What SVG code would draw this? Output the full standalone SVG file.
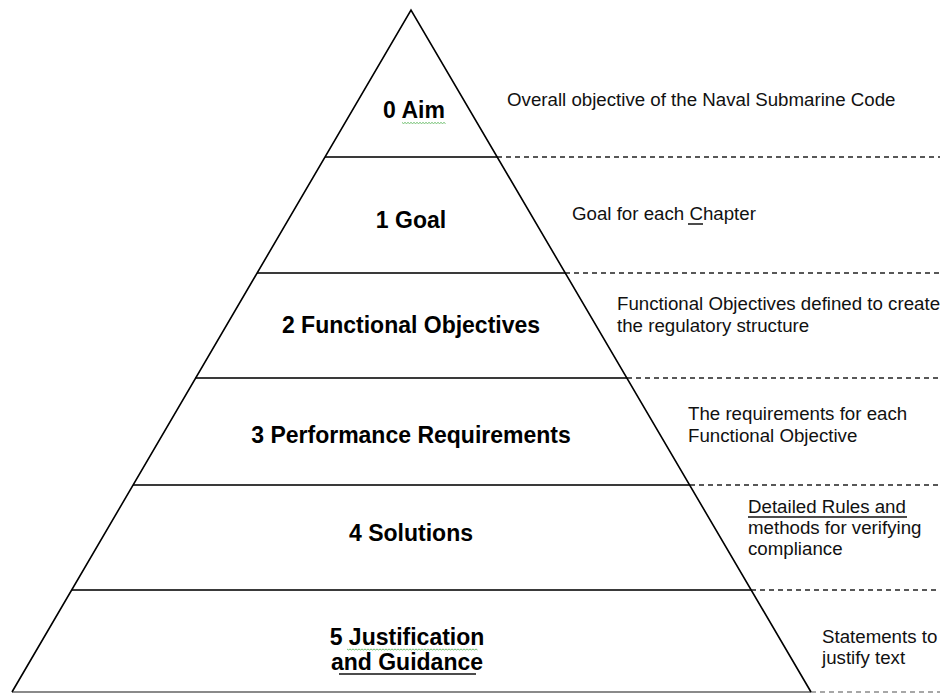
<svg xmlns="http://www.w3.org/2000/svg" width="940" height="694" viewBox="0 0 940 694">
  <style>
    .tier { font-family: "Liberation Sans", Arial, sans-serif; font-size: 23px; font-weight: bold; fill: #000; text-anchor: middle; }
    .note { font-family: "Liberation Sans", Arial, sans-serif; font-size: 18.7px; fill: #111; }
    .edge { stroke: #000; stroke-width: 1.6; fill: none; }
    .band { stroke: #3a3a3a; stroke-width: 2.2; }
    .guide { stroke: #222; stroke-width: 1.5; stroke-dasharray: 5 4; }
    .base { stroke: #8a8a8a; stroke-width: 1.8; }
    .baseguide { stroke: #8a8a8a; stroke-width: 1.5; stroke-dasharray: 5 4; }
    .squiggle { stroke: #6fbf6f; stroke-width: 1; fill: none; }
    .uline { stroke: #111; stroke-width: 1.5; }
  </style>
  <rect width="940" height="694" fill="#fff"/>

  <!-- tier dividers and their dashed extensions -->
  <g id="connectors">
    <line class="band" x1="325" y1="157" x2="497" y2="157"/>
    <line class="guide" x1="497" y1="157" x2="940" y2="157"/>
    <line class="band" x1="257" y1="273" x2="565" y2="273"/>
    <line class="guide" x1="565" y1="273" x2="940" y2="273"/>
    <line class="band" x1="195" y1="378" x2="627" y2="378"/>
    <line class="guide" x1="627" y1="378" x2="940" y2="378"/>
    <line class="band" x1="133" y1="485" x2="690" y2="485"/>
    <line class="guide" x1="690" y1="485" x2="940" y2="485"/>
    <line class="band" x1="72" y1="590" x2="751" y2="590"/>
    <line class="guide" x1="751" y1="590" x2="940" y2="590"/>
    <line class="base" x1="12" y1="692" x2="811" y2="692"/>
    <line class="baseguide" x1="811" y1="692" x2="940" y2="692"/>
  </g>

  <!-- pyramid outline -->
  <g id="pyramid">
    <polyline class="edge" points="12,692 411,10 811,692"/>
  </g>

  <g id="tier0">
    <text class="tier" x="414" y="118">0 Aim</text>
    <path class="squiggle" d="M402,122.5 l1.5,1 l1.5,-1 l1.5,1 l1.5,-1 l1.5,1 l1.5,-1 l1.5,1 l1.5,-1 l1.5,1 l1.5,-1 l1.5,1 l1.5,-1 l1.5,1 l1.5,-1 l1.5,1 l1.5,-1 l1.5,1 l1.5,-1 l1.5,1 l1.5,-1 l1.5,1 l1.5,-1 l1.5,1 l1.5,-1 l1.5,1 l1.5,-1 l1.5,1 l1.5,-1 l1.5,1"/>
    <text class="note" x="507" y="106">Overall objective of the Naval Submarine Code</text>
  </g>

  <g id="tier1">
    <text class="tier" x="411" y="228">1 Goal</text>
    <text class="note" x="572" y="220">Goal for each Chapter</text>
    <line class="uline" x1="688" y1="224" x2="703" y2="224"/>
  </g>

  <g id="tier2">
    <text class="tier" x="411" y="333">2 Functional Objectives</text>
    <text class="note" x="617" y="310">Functional Objectives defined to create</text>
    <text class="note" x="617" y="332">the regulatory structure</text>
  </g>

  <g id="tier3">
    <text class="tier" x="411" y="443">3 Performance Requirements</text>
    <text class="note" x="688" y="420">The requirements for each</text>
    <text class="note" x="688" y="442">Functional Objective</text>
  </g>

  <g id="tier4">
    <text class="tier" x="411" y="541">4 Solutions</text>
    <text class="note" x="748" y="513">Detailed Rules and</text>
    <line class="uline" x1="748" y1="517" x2="907" y2="517"/>
    <text class="note" x="748" y="534">methods for verifying</text>
    <text class="note" x="748" y="555">compliance</text>
  </g>

  <g id="tier5">
    <text class="tier" x="407" y="645">5 Justification</text>
    <path class="squiggle" d="M347,649 l1.5,1 l1.5,-1 l1.5,1 l1.5,-1 l1.5,1 l1.5,-1 l1.5,1 l1.5,-1 l1.5,1 l1.5,-1 l1.5,1 l1.5,-1 l1.5,1 l1.5,-1 l1.5,1 l1.5,-1 l1.5,1 l1.5,-1 l1.5,1 l1.5,-1 l1.5,1 l1.5,-1 l1.5,1 l1.5,-1 l1.5,1 l1.5,-1 l1.5,1 l1.5,-1 l1.5,1 l1.5,-1 l1.5,1 l1.5,-1 l1.5,1 l1.5,-1 l1.5,1 l1.5,-1 l1.5,1 l1.5,-1 l1.5,1 l1.5,-1 l1.5,1 l1.5,-1 l1.5,1 l1.5,-1 l1.5,1 l1.5,-1 l1.5,1 l1.5,-1 l1.5,1 l1.5,-1 l1.5,1 l1.5,-1 l1.5,1 l1.5,-1 l1.5,1 l1.5,-1 l1.5,1 l1.5,-1 l1.5,1 l1.5,-1 l1.5,1 l1.5,-1 l1.5,1 l1.5,-1 l1.5,1 l1.5,-1 l1.5,1 l1.5,-1 l1.5,1 l1.5,-1 l1.5,1 l1.5,-1 l1.5,1 l1.5,-1 l1.5,1 l1.5,-1 l1.5,1 l1.5,-1 l1.5,1 l1.5,-1 l1.5,1 l1.5,-1 l1.5,1 l1.5,-1 l1.5,1 l1.5,-1 l1.5,1"/>
    <text class="tier" x="407" y="670">and Guidance</text>
    <line class="uline" x1="339" y1="674" x2="476" y2="674" stroke="#000" stroke-width="1.8"/>
    <text class="note" x="822" y="643">Statements to</text>
    <text class="note" x="822" y="664">justify text</text>
  </g>
</svg>
